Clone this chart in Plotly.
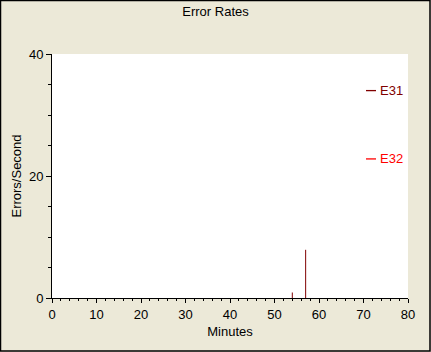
import plotly.graph_objects as go

# Data
minutes_e31 = [54, 57]
rates_e31 = [0.9, 7.9]
minutes_e32 = []
rates_e32 = []
series_names = ["E31", "E32"]
series_colors = ["#800000", "#ff0000"]
legend_levels = [34.0, 22.8]

W, H = 431, 352
L, R, T, B = 52, 23, 54, 54
PW, PH = W - L - R, H - T - B
FONT = "Liberation Sans, Arial, sans-serif"
BG = "#ECE9D8"


def spikes(xs, ys):
    px, py = [], []
    for x, y in zip(xs, ys):
        px += [x, x, None]
        py += [0, y, None]
    return px, py


fig = go.Figure()
for name, xs, ys, col in zip(series_names, [minutes_e31, minutes_e32],
                             [rates_e31, rates_e32], series_colors):
    px, py = spikes(xs, ys)
    fig.add_trace(go.Scatter(x=px, y=py, mode="lines", name=name,
                             line=dict(color=col, width=1), showlegend=False,
                             hoverinfo="skip"))

# legend: short line key + label
for name, col, lv in zip(series_names, series_colors, legend_levels):
    fig.add_shape(type="line", xref="paper", yref="y",
                  x0=(366 - L) / PW, x1=(376 - L) / PW, y0=lv, y1=lv,
                  line=dict(color=col, width=1.3))
    fig.add_annotation(x=(378 - L) / PW, xref="paper", y=lv, yref="y",
                       text=name, showarrow=False, xanchor="left",
                       yanchor="middle", font=dict(family=FONT, size=13, color=col))

# outer border
fig.add_shape(type="rect", xref="paper", yref="paper",
              x0=(0.5 - L) / PW, x1=(W - 1 - L) / PW,
              y0=-(H - 1 - T - PH) / PH, y1=1 + (T - 0.5) / PH,
              line=dict(color="black", width=1.5), layer="above")

fig.update_layout(
    width=W, height=H,
    margin=dict(l=L, r=R, t=T, b=B, autoexpand=False),
    paper_bgcolor=BG, plot_bgcolor="white",
    font=dict(family=FONT, size=13, color="black"),
    title=dict(text="Error Rates", x=0.5, xref="container", xanchor="center",
               y=1 - 11 / H, yref="container", yanchor="middle",
               font=dict(family=FONT, size=13, color="black")),
    xaxis=dict(range=[0, 80], dtick=10, showgrid=False, zeroline=False,
               showline=True, linecolor="black", linewidth=1,
               ticks="outside", ticklen=4, tickcolor="black",
               minor=dict(dtick=2, ticks="outside", ticklen=2, tickcolor="black"),
               title=dict(text="Minutes", standoff=6, font=dict(size=13)),
               tickfont=dict(size=13), fixedrange=True, automargin=False),
    yaxis=dict(range=[0, 40], dtick=20, showgrid=False, zeroline=False,
               showline=True, linecolor="black", linewidth=1,
               ticks="outside", ticklen=5, tickcolor="black",
               minor=dict(dtick=5, ticks="outside", ticklen=3, tickcolor="black"),
               title=dict(text="Errors/Second", standoff=4, font=dict(size=13)),
               tickfont=dict(size=13), fixedrange=True, automargin=False),
)

fig.write_html("out.html")
